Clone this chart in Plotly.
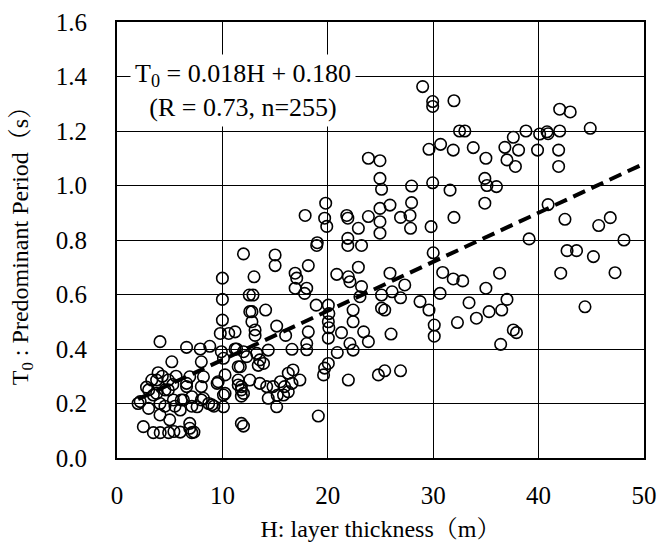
import plotly.graph_objects as go

# Observed data: H (layer thickness, m) and T0 (predominant period, s)
h_values = [
    2.0, 2.2, 2.5, 2.8, 3.0, 3.3, 3.45, 3.45, 3.76, 3.76, 3.9, 4.08, 4.08, 4.08, 4.1, 4.55, 4.55,
    4.87, 4.87, 4.9, 5.0, 5.2, 5.35, 5.4, 5.5, 6.0, 6.0, 6.1, 6.3, 4.3, 5.3, 5.6, 3.0,
    6.6, 6.6, 6.6, 6.9, 6.9, 6.9, 7.1, 7.1, 7.1, 7.3,
    7.6, 7.9, 8.0, 8.0, 8.0, 8.2, 8.2, 8.7, 8.8, 9.0,
    9.2, 9.5, 9.6, 9.8, 9.9, 10.0, 10.0, 10.0, 10.1,
    10.1, 10.1, 10.25, 10.25, 10.6, 11.2, 11.2, 11.35, 11.5, 11.5,
    11.5, 11.7, 11.8, 11.8, 11.8, 11.8, 12.0, 12.0, 12.0, 12.0,
    12.3, 12.6, 12.55, 12.6, 12.8, 12.8, 12.9, 13.0, 13.1, 13.1,
    13.25, 13.4, 13.55, 13.55, 13.9, 14.1, 14.2, 14.35, 14.35, 14.8,
    15.0, 15.0, 15.15, 15.15, 15.2, 15.5, 15.8, 15.9, 16.0, 16.25,
    16.25, 16.6, 16.6, 16.7, 16.9, 17.05, 16.9, 17.35, 17.8, 17.85,
    18.0, 18.0, 18.0, 18.15, 18.15, 18.9, 18.95, 19.0, 19.1, 19.6,
    19.7, 19.7, 19.8, 19.9, 20.05, 20.1, 20.05, 20.1, 20.05, 20.05,
    20.85, 20.9, 21.3, 21.8, 21.9, 21.9, 21.9, 21.95, 21.95, 22.1,
    22.1, 22.4, 22.4, 22.4, 22.9, 22.9, 23.05, 23.2, 23.2, 23.4,
    23.85, 23.85, 23.85,
    24.8, 24.95, 24.95, 25.1, 24.95, 24.95, 24.95, 25.1, 25.1, 25.4,
    25.4, 25.9, 25.9, 26.0, 26.1, 26.9, 26.9, 26.9, 27.3, 27.8,
    27.85, 27.95, 27.95, 28.75, 29.0, 29.6, 29.6, 29.8, 29.95, 29.95,
    29.95, 30.0, 30.1, 30.1, 30.65, 30.7, 30.9, 31.6, 31.9, 31.9,
    31.97, 31.97, 32.3, 32.5, 32.8, 33.0, 33.4, 33.8, 34.1, 34.9,
    34.9, 35.0, 35.0, 35.1, 35.3, 36.0, 36.3, 36.4, 36.5, 36.8,
    37.0, 37.0, 37.6, 37.6, 37.8, 37.9, 38.1, 38.8, 39.1, 39.9,
    40.1, 40.8, 40.9, 40.9, 41.9, 41.9, 42.0, 42.0, 42.1, 42.5,
    42.7, 43.0, 43.6, 44.4, 44.9, 45.2, 45.7, 46.8, 47.25, 48.1,
]
t0_values = [
    0.20, 0.207, 0.115, 0.26, 0.182, 0.286, 0.231, 0.093, 0.286, 0.237, 0.313, 0.427, 0.20, 0.158, 0.093, 0.25, 0.19,
    0.286, 0.25, 0.093, 0.14, 0.353, 0.213, 0.097, 0.19, 0.176, 0.095, 0.213, 0.213, 0.30, 0.27, 0.30, 0.25,
    0.406, 0.274, 0.262, 0.298, 0.127, 0.109, 0.225, 0.19, 0.093, 0.095,
    0.188, 0.40, 0.353, 0.262, 0.213, 0.298, 0.219, 0.20, 0.41, 0.195,
    0.19, 0.274, 0.28, 0.457, 0.39, 0.66, 0.582, 0.506, 0.366,
    0.231, 0.188, 0.305, 0.237, 0.457, 0.463, 0.40, 0.40, 0.335, 0.286,
    0.268, 0.335, 0.262, 0.25, 0.227, 0.127, 0.749, 0.39, 0.237, 0.117,
    0.372, 0.286, 0.598, 0.537, 0.537, 0.50, 0.598, 0.665, 0.47, 0.45,
    0.384, 0.34, 0.36, 0.274, 0.347, 0.543, 0.262, 0.396, 0.219, 0.262,
    0.745, 0.706, 0.484, 0.188, 0.23, 0.28, 0.231, 0.262, 0.45, 0.243,
    0.311, 0.274, 0.399, 0.323, 0.678, 0.66, 0.623, 0.286, 0.604, 0.89,
    0.623, 0.42, 0.397, 0.706, 0.463, 0.561, 0.78, 0.79, 0.154, 0.305,
    0.88, 0.33, 0.935, 0.85, 0.561, 0.53, 0.50, 0.478, 0.44, 0.347,
    0.674, 0.387, 0.46, 0.89, 0.88, 0.806, 0.78, 0.665, 0.286, 0.647,
    0.42, 0.543, 0.50, 0.396, 0.843, 0.70, 0.592, 0.78, 0.629, 0.463,
    1.10, 0.886, 0.427,
    0.305, 1.091, 1.026, 0.986, 0.916, 0.867, 0.825, 0.598, 0.55, 0.543,
    0.32, 0.928, 0.678, 0.455, 0.61, 0.883, 0.588, 0.32, 0.635, 0.89,
    0.843, 0.998, 0.937, 0.574, 1.363, 1.133, 0.543, 0.849, 1.308, 1.29,
    1.01, 0.753, 0.488, 0.447, 0.604, 1.151, 0.681, 0.983, 1.13, 0.657,
    1.311, 0.883, 0.497, 1.20, 0.65, 1.20, 0.57, 1.139, 0.513, 1.026,
    0.935, 1.10, 0.623, 1.00, 0.537, 0.996, 0.678, 0.417, 0.543, 1.14,
    1.094, 0.582, 1.177, 0.47, 1.07, 0.46, 1.13, 1.20, 0.804, 1.13,
    1.189, 1.197, 1.19, 0.93, 1.13, 1.07, 1.28, 1.20, 0.678, 0.876,
    0.761, 1.27, 0.761, 0.555, 1.21, 0.739, 0.853, 0.882, 0.68, 0.80,
]

# Regression: T0 = 0.018 H + 0.180
slope = 0.018
intercept = 0.180
fit_h = [2.0, 50.0]
fit_t = [slope * h + intercept for h in fit_h]

x_ticks = [0, 10, 20, 30, 40, 50]
y_ticks = [0.0, 0.2, 0.4, 0.6, 0.8, 1.0, 1.2, 1.4, 1.6]
y_tick_labels = ["0.0", "0.2", "0.4", "0.6", "0.8", "1.0", "1.2", "1.4", "1.6"]

FONT = "Liberation Serif, Times New Roman, Noto Serif CJK JP, Noto Sans CJK JP, serif"

fig = go.Figure()
fig.add_trace(go.Scatter(
    x=h_values, y=t0_values, mode="markers",
    marker=dict(symbol="circle", size=11.5, color="rgba(0,0,0,0)",
                line=dict(color="black", width=1.6)),
    showlegend=False, hoverinfo="x+y",
))
fig.add_trace(go.Scatter(
    x=fit_h, y=fit_t, mode="lines",
    line=dict(color="black", width=4, dash="13px,7px"),
    showlegend=False,
))

fig.add_annotation(
    x=12.0, y=1.35, xref="x", yref="y",
    text="T<sub>0</sub> = 0.018H + 0.180<br>(R = 0.73, n=255)",
    showarrow=False, bgcolor="white", borderpad=4,
    font=dict(family=FONT, size=26, color="black"),
    align="center",
)

axis_common = dict(
    showgrid=True, gridcolor="black", gridwidth=1.3,
    showline=True, linecolor="black", linewidth=2, mirror=True,
    zeroline=False, ticks="",
    tickfont=dict(family=FONT, size=25, color="black"),
)

fig.update_xaxes(
    range=[0, 50], tickvals=x_ticks, ticklabelstandoff=14,
    title=dict(text="H: layer thickness（m）", font=dict(family=FONT, size=24, color="black"), standoff=12),
    **axis_common,
)
fig.update_yaxes(
    range=[0, 1.6], tickvals=y_ticks, ticktext=y_tick_labels, ticklabelstandoff=23,
    title=dict(text="T<sub>0</sub> : Predominant Period（s）", font=dict(family=FONT, size=24, color="black"), standoff=20),
    **axis_common,
)

fig.update_layout(
    width=658, height=549,
    margin=dict(l=117, r=14, t=22, b=91, autoexpand=False),
    paper_bgcolor="white", plot_bgcolor="white",
    font=dict(family=FONT, color="black"),
)

fig.write_html(
    "out.html",
    config={"displayModeBar": False},
    post_script="document.body.style.margin='0';document.body.style.padding='0';document.body.style.overflow='hidden';",
)
